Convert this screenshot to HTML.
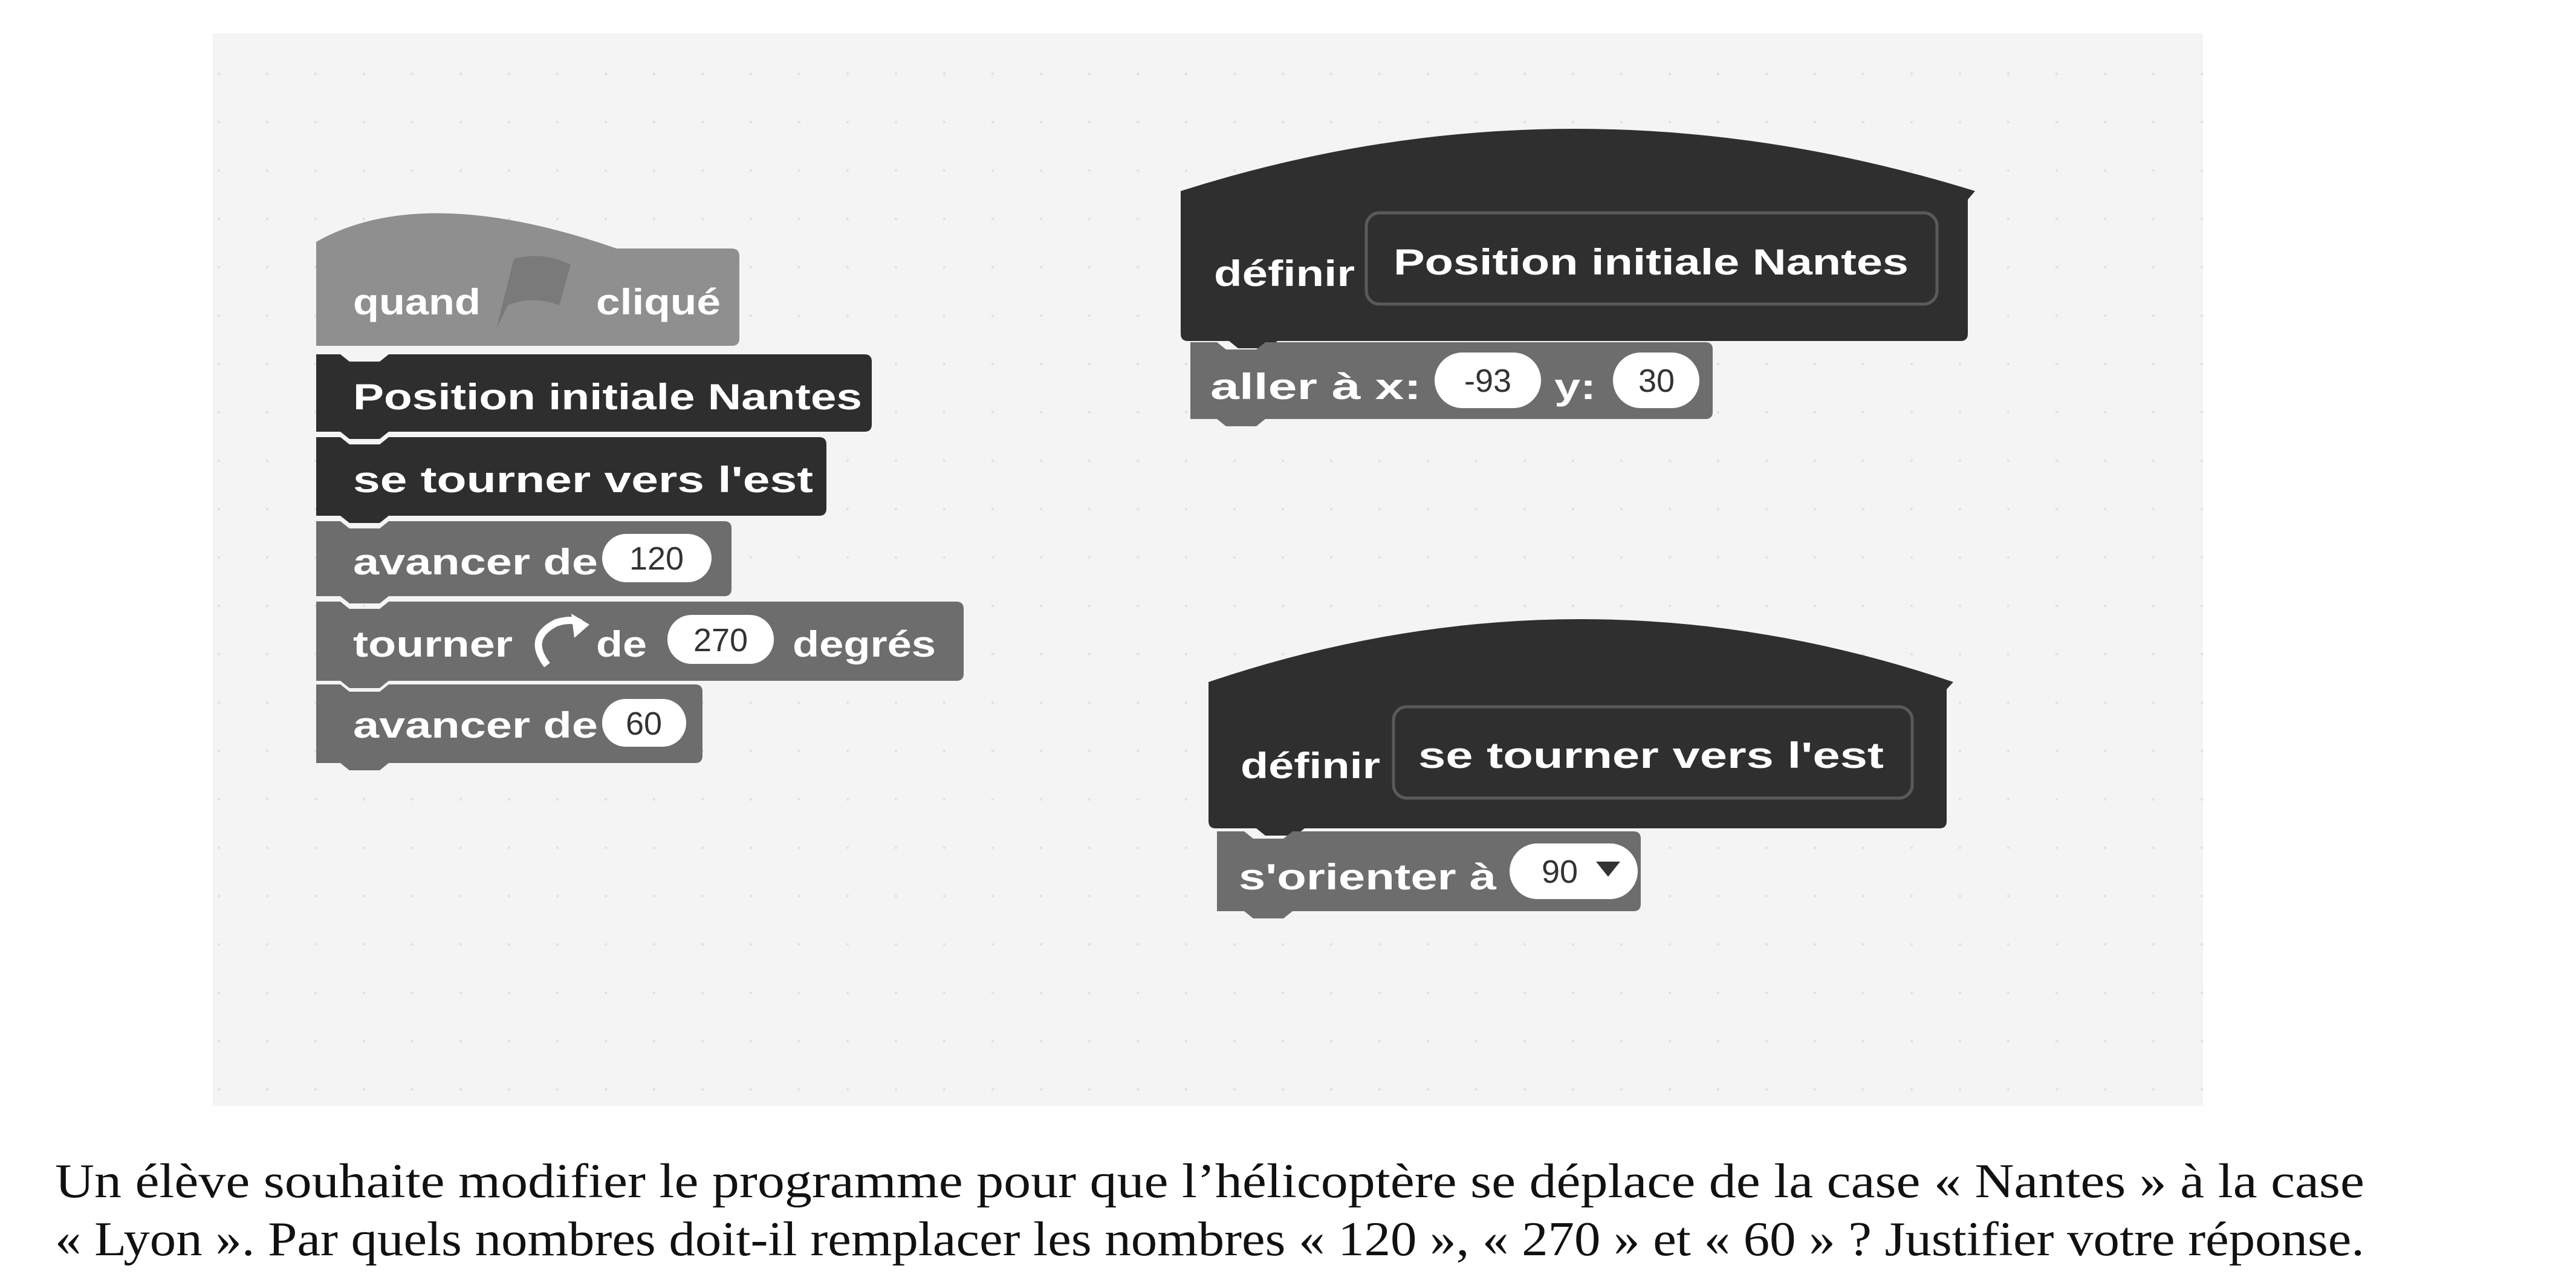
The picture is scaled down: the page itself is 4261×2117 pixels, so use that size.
<!DOCTYPE html>
<html><head><meta charset="utf-8"><style>
html,body{margin:0;padding:0;background:#fff;}
svg{display:block;}
.b{font-family:"Liberation Sans",sans-serif;font-weight:bold;fill:#fff;font-size:60px;}
.n{font-family:"Liberation Sans",sans-serif;fill:#333;font-size:54px;}
.s{font-family:"Liberation Serif",serif;fill:#111;font-size:80px;}
</style></head><body>
<svg width="4261" height="2117" viewBox="0 0 4261 2117" xmlns="http://www.w3.org/2000/svg">
<defs>
<pattern id="dots" width="80" height="80" patternUnits="userSpaceOnUse"><rect x="40" y="40" width="4" height="4" fill="#e2e2e2"/></pattern>
</defs>
<rect x="352" y="55" width="3292" height="1774" fill="#f4f4f4"/>
<rect x="352" y="55" width="3292" height="1774" fill="url(#dots)"/>

<!-- Left stack -->
<path d="M523 580 L523 400 Q700 300 1020 411 L1210 411 Q1223 411 1223 424 L1223 560 Q1223 572 1210 572 L523 572 Z" fill="#8f8f8f"/>
<path d="M821 544 L850 428 Q900 415 944 438 L925 505 Q880 488 840 505" fill="#7a7a7a"/>
<text class="b" x="584" y="520" textLength="211" lengthAdjust="spacingAndGlyphs">quand</text>
<text class="b" x="986" y="520" textLength="206" lengthAdjust="spacingAndGlyphs">cliqué</text>

<path d="M523 586 L563 586 L578 598 L628 598 L643 586 L1430 586 Q1442 586 1442 598 L1442 702 Q1442 714 1430 714 L643 714 L628 726 L578 726 L563 714 L523 714 Z" fill="#2e2e2e"/>
<text class="b" x="584" y="677" textLength="842" lengthAdjust="spacingAndGlyphs">Position initiale Nantes</text>

<path d="M523 723 L563 723 L578 735 L628 735 L643 723 L1355 723 Q1367 723 1367 735 L1367 841 Q1367 853 1355 853 L643 853 L628 865 L578 865 L563 853 L523 853 Z" fill="#2e2e2e"/>
<text class="b" x="584" y="814" textLength="761" lengthAdjust="spacingAndGlyphs">se tourner vers l'est</text>

<path d="M523 862 L563 862 L578 874 L628 874 L643 862 L1198 862 Q1210 862 1210 874 L1210 974 Q1210 986 1198 986 L643 986 L628 998 L578 998 L563 986 L523 986 Z" fill="#6d6d6d"/>
<text class="b" x="584" y="950" textLength="405" lengthAdjust="spacingAndGlyphs">avancer de</text>
<rect x="996" y="883" width="181" height="80" rx="40" fill="#fff"/>
<text class="n" x="1086" y="942" text-anchor="middle">120</text>

<path d="M523 995 L563 995 L578 1007 L628 1007 L643 995 L1582 995 Q1594 995 1594 1007 L1594 1114 Q1594 1126 1582 1126 L643 1126 L628 1138 L578 1138 L563 1126 L523 1126 Z" fill="#6d6d6d"/>
<text class="b" x="584" y="1086" textLength="264" lengthAdjust="spacingAndGlyphs">tourner</text>
<path d="M905 1100 Q870 1055 920 1030 Q945 1022 960 1030" stroke="#fff" stroke-width="12" fill="none"/>
<path d="M945 1015 L975 1033 L950 1055 Z" fill="#fff"/>
<text class="b" x="986" y="1086" textLength="84" lengthAdjust="spacingAndGlyphs">de</text>
<rect x="1104" y="1017" width="176" height="81" rx="40" fill="#fff"/>
<text class="n" x="1192" y="1077" text-anchor="middle">270</text>
<text class="b" x="1311" y="1086" textLength="237" lengthAdjust="spacingAndGlyphs">degrés</text>

<path d="M523 1132 L563 1132 L578 1144 L628 1144 L643 1132 L1150 1132 Q1162 1132 1162 1144 L1162 1250 Q1162 1262 1150 1262 L643 1262 L628 1274 L578 1274 L563 1262 L523 1262 Z" fill="#6d6d6d"/>
<text class="b" x="584" y="1220" textLength="405" lengthAdjust="spacingAndGlyphs">avancer de</text>
<rect x="996" y="1156" width="139" height="79" rx="39" fill="#fff"/>
<text class="n" x="1065" y="1215" text-anchor="middle">60</text>

<!-- Define 1 -->
<path d="M1953 316 Q2600 110 3267 316 L3255 330 L3255 552 Q3255 564 3243 564 L2113 564 L2098 576 L2048 576 L2033 564 L1965 564 Q1953 564 1953 552 Z" fill="#2f2f2f"/>
<rect x="2260" y="352" width="944" height="151" rx="22" fill="#2f2f2f" stroke="#5a5a5a" stroke-width="5"/>
<text class="b" x="2008" y="473" textLength="233" lengthAdjust="spacingAndGlyphs">définir</text>
<text class="b" x="2305" y="454" textLength="852" lengthAdjust="spacingAndGlyphs">Position initiale Nantes</text>

<path d="M1969 566 L2013 566 L2028 578 L2078 578 L2093 566 L2821 566 Q2833 566 2833 578 L2833 681 Q2833 693 2821 693 L2093 693 L2078 705 L2028 705 L2013 693 L1969 693 Z" fill="#6d6d6d"/>
<text class="b" x="2002" y="660" textLength="349" lengthAdjust="spacingAndGlyphs">aller à x:</text>
<rect x="2373" y="583" width="176" height="92" rx="46" fill="#fff"/>
<text class="n" x="2461" y="648" text-anchor="middle">-93</text>
<text class="b" x="2571" y="660" textLength="69" lengthAdjust="spacingAndGlyphs">y:</text>
<rect x="2668" y="583" width="143" height="92" rx="46" fill="#fff"/>
<text class="n" x="2740" y="648" text-anchor="middle">30</text>

<!-- Define 2 -->
<path d="M1999 1128 Q2615 920 3231 1128 L3220 1140 L3220 1358 Q3220 1370 3208 1370 L2158 1370 L2143 1382 L2093 1382 L2078 1370 L2011 1370 Q1999 1370 1999 1358 Z" fill="#2f2f2f"/>
<rect x="2305" y="1169" width="858" height="151" rx="22" fill="#2f2f2f" stroke="#5a5a5a" stroke-width="5"/>
<text class="b" x="2052" y="1287" textLength="231" lengthAdjust="spacingAndGlyphs">définir</text>
<text class="b" x="2346" y="1270" textLength="770" lengthAdjust="spacingAndGlyphs">se tourner vers l'est</text>

<path d="M2013 1375 L2058 1375 L2073 1387 L2123 1387 L2138 1375 L2702 1375 Q2714 1375 2714 1387 L2714 1495 Q2714 1507 2702 1507 L2138 1507 L2123 1519 L2073 1519 L2058 1507 L2013 1507 Z" fill="#6d6d6d"/>
<text class="b" x="2049" y="1471" textLength="426" lengthAdjust="spacingAndGlyphs">s'orienter à</text>
<rect x="2497" y="1395" width="212" height="92" rx="46" fill="#fff"/>
<text class="n" x="2580" y="1460" text-anchor="middle">90</text>
<path d="M2640 1425 L2680 1425 L2660 1450 Z" fill="#333"/>

<!-- Caption -->
<text class="s" x="91" y="1980" textLength="3820" lengthAdjust="spacingAndGlyphs">Un élève souhaite modifier le programme pour que l’hélicoptère se déplace de la case « Nantes » à la case</text>
<text class="s" x="91" y="2076" textLength="3820" lengthAdjust="spacingAndGlyphs">« Lyon ». Par quels nombres doit-il remplacer les nombres « 120 », « 270 » et « 60 » ? Justifier votre réponse.</text>
</svg>
</body></html>
